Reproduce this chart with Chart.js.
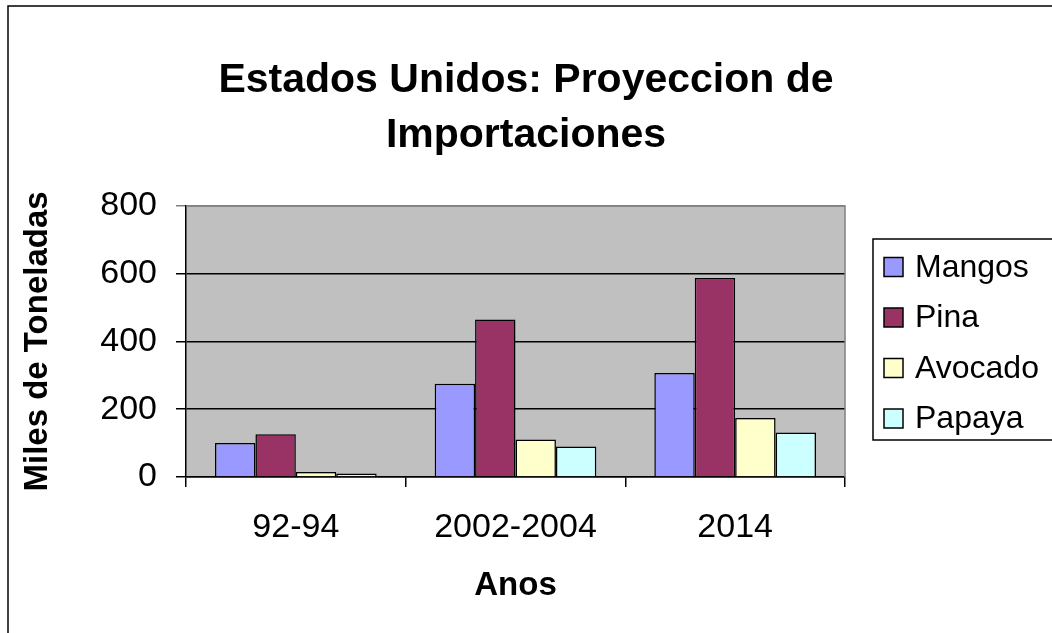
<!DOCTYPE html>
<html>
<head>
<meta charset="utf-8">
<script src="https://cdn.jsdelivr.net/npm/chart.js@4.4.1/dist/chart.umd.min.js"></script>
<style>
html, body { margin: 0; padding: 0; background: #fff; }
</style>
</head>
<body>
<canvas id="chart" width="1052" height="633"></canvas>
<script>
// ---------------------------------- data
const categories = ['92-94', '2002-2004', '2014'];
const mangos = [100, 275, 307];
const pina = [126, 465, 587];
const avocado = [15, 111, 174];
const papaya = [10, 90, 131];
const yTicks = [0, 200, 400, 600, 800];

const FONT = '"Liberation Sans", Arial, sans-serif';

// grey plot area + white page
const plotBg = {
    id: 'plotBg',
    beforeDraw(chart) {
        const {ctx, chartArea: a} = chart;
        ctx.save();
        ctx.fillStyle = '#fff';
        ctx.fillRect(0, 0, chart.width, chart.height);
        ctx.fillStyle = '#c0c0c0';
        ctx.fillRect(a.left, a.top, a.right - a.left, a.bottom - a.top);
        ctx.restore();
    }
};

// outer frame, plot edges and the boxed legend
const frame = {
    id: 'frame',
    afterDraw(chart) {
        const {ctx, chartArea: a} = chart;
        ctx.save();
        // plot area top/right edge
        ctx.strokeStyle = '#808080';
        ctx.lineWidth = 1.5;
        ctx.beginPath();
        ctx.moveTo(a.left, a.top);
        ctx.lineTo(a.right, a.top);
        ctx.lineTo(a.right, a.bottom);
        ctx.stroke();

        // outer frame (left and top only, rest is cut off)
        ctx.strokeStyle = '#000';
        ctx.beginPath();
        ctx.moveTo(8, chart.height + 2);
        ctx.lineTo(8, 6);
        ctx.lineTo(chart.width + 2, 6);
        ctx.stroke();

        // legend
        ctx.lineWidth = 1.5;
        ctx.strokeRect(873, 239, 200, 201);
        ctx.font = '32px ' + FONT;
        ctx.textBaseline = 'middle';
        ctx.textAlign = 'left';
        chart.data.datasets.forEach((ds, i) => {
            const cy = 267 + i * 50.5;
            ctx.fillStyle = ds.backgroundColor;
            ctx.fillRect(884, cy - 9.5, 19, 19);
            ctx.strokeStyle = '#000';
            ctx.lineWidth = 1.5;
            ctx.strokeRect(884, cy - 9.5, 19, 19);
            ctx.fillStyle = '#000';
            ctx.fillText(ds.label, 915, cy + 1);
        });
        ctx.restore();
    }
};

const ctx = document.querySelector('#chart').getContext('2d');
const chart = new Chart(ctx, {
    type: 'bar',
    data: {
        labels: categories,
        datasets: [
            {label: 'Mangos', data: mangos, backgroundColor: '#9999ff'},
            {label: 'Pina', data: pina, backgroundColor: '#993366'},
            {label: 'Avocado', data: avocado, backgroundColor: '#ffffcc'},
            {label: 'Papaya', data: papaya, backgroundColor: '#ccffff'},
        ].map(d => Object.assign(d, {borderColor: '#000', borderWidth: 1.5, barPercentage: 1, categoryPercentage: 0.736}))
    },
    options: {
        responsive: false,
        animation: false,
        layout: {padding: 0},
        plugins: {
            legend: {display: false},
            tooltip: {enabled: false},
            title: {
                display: true,
                text: ['Estados Unidos: Proyeccion de', 'Importaciones'],
                color: '#000',
                font: {family: FONT, size: 41, weight: 'bold', lineHeight: 1.34},
                padding: {top: 53, bottom: 43},
            }
        },
        scales: {
            x: {
                afterFit(scale) { scale.height = 156; },
                grid: {drawOnChartArea: false, offset: true, tickLength: 10, color: '#000', lineWidth: 1.5},
                border: {display: true, color: '#000', width: 1.5},
                ticks: {color: '#000', padding: 20, font: {family: FONT, size: 34}},
                title: {
                    display: true,
                    text: 'Anos',
                    color: '#000',
                    font: {family: FONT, size: 33, weight: 'bold'},
                    padding: {top: 0, bottom: 27},
                }
            },
            y: {
                min: 0,
                max: 800,
                afterFit(scale) { scale.width = 186; },
                afterBuildTicks(scale) { scale.ticks = yTicks.map(v => ({value: v})); },
                grid: {
                    tickLength: 10,
                    lineWidth: 1.5,
                    color: (c) => c.tick && c.tick.value === 800 ? '#808080' : '#000',
                },
                border: {display: true, color: '#000', width: 1.5},
                ticks: {color: '#000', padding: 19, font: {family: FONT, size: 34}},
                title: {
                    display: true,
                    text: 'Miles de Toneladas',
                    color: '#000',
                    font: {family: FONT, size: 33, weight: 'bold'},
                    padding: {top: 18, bottom: 0},
                }
            },
            // empty right-hand box that leaves room for the legend
            side: {
                position: 'right',
                afterFit(scale) { scale.width = 207; },
                grid: {display: false},
                border: {display: false},
                ticks: {display: false},
            }
        }
    },
    plugins: [plotBg, frame]
});
</script>
</body>
</html>
